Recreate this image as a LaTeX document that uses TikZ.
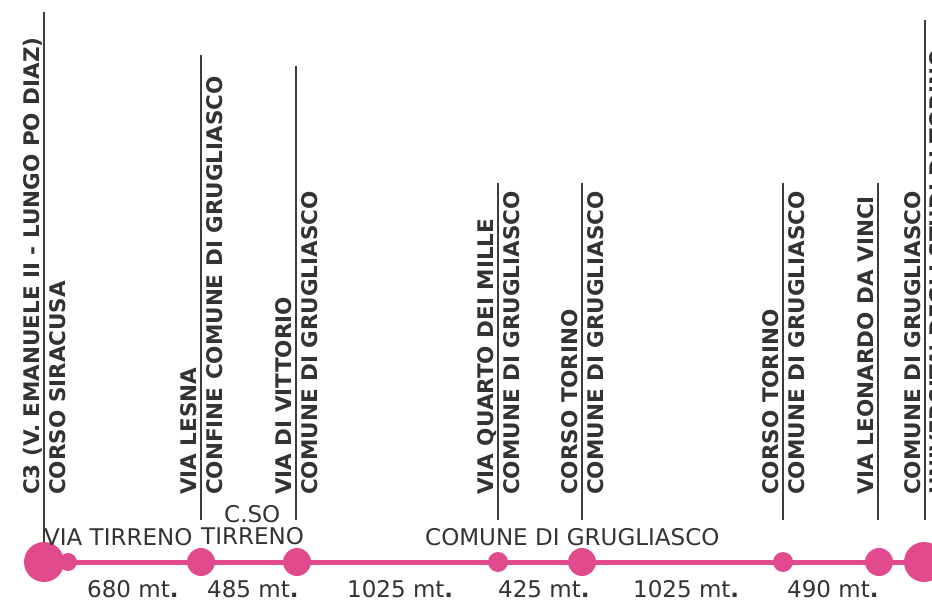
\documentclass[tikz,border=0pt]{standalone}
\usepackage{fontspec}
\setmainfont{DejaVu Sans}
\definecolor{routepink}{HTML}{E14B8E}
\definecolor{txtgray}{HTML}{333333}
\definecolor{linegray}{HTML}{3C3C3C}
\begin{document}
\begin{tikzpicture}[x=1pt,y=-1pt,
  stoplbl/.style={rotate=90,inner sep=0pt,anchor=base west,text=txtgray,
    font=\fontsize{21.5}{24}\selectfont\bfseries},
  plainlbl/.style={inner sep=0pt,anchor=base west,text=txtgray,
    font=\fontsize{23}{26}\selectfont},
  stopdot/.style={circle,fill=routepink,draw=none,inner sep=0pt},
  tick/.style={draw=linegray,line width=1.3pt},
  route/.style={draw=routepink,line width=5pt}]
\useasboundingbox (0,0) rectangle (932,601);
% stops
\node[stopdot,minimum size=40pt] (c1) at (44,562) {};
\node[stopdot,minimum size=18pt] (c2) at (68,562) {};
\node[stopdot,minimum size=28pt] (c3) at (201,562) {};
\node[stopdot,minimum size=28pt] (c4) at (297,562) {};
\node[stopdot,minimum size=20pt] (c5) at (498,562) {};
\node[stopdot,minimum size=28pt] (c6) at (582,562) {};
\node[stopdot,minimum size=20pt] (c7) at (783,562) {};
\node[stopdot,minimum size=28pt] (c8) at (879,562) {};
\node[stopdot,minimum size=40pt] (c9) at (924,562) {};
\coordinate (rend) at (932,562);
\draw[route] (c1.center) -- (c9.center) -- (rend);
% ticks
\coordinate (v1t) at (44,12);
\coordinate (v2t) at (201,55);  \coordinate (v2b) at (201,520);
\coordinate (v3t) at (296,66);  \coordinate (v3b) at (296,520);
\coordinate (v4t) at (498,183); \coordinate (v4b) at (498,520);
\coordinate (v5t) at (582,183); \coordinate (v5b) at (582,520);
\coordinate (v6t) at (783,183); \coordinate (v6b) at (783,520);
\coordinate (v7t) at (878,183); \coordinate (v7b) at (878,520);
\coordinate (v8t) at (925,20);  \coordinate (v8b) at (925,520);
\draw[tick] (v1t) -- (c1.north);
\draw[tick] (v2t) -- (v2b);
\draw[tick] (v3t) -- (v3b);
\draw[tick] (v4t) -- (v4b);
\draw[tick] (v5t) -- (v5b);
\draw[tick] (v6t) -- (v6b);
\draw[tick] (v7t) -- (v7b);
\draw[tick] (v8t) -- (v8b);
% vertical stop names
\node[stoplbl] (s1a) at (39,495) {C3 (V. EMANUELE II - LUNGO PO DIAZ)};
\node[stoplbl] (s1b) at (65.5,495) {CORSO SIRACUSA};
\node[stoplbl] (s2a) at (196,495) {VIA LESNA};
\node[stoplbl] (s2b) at (222.5,495) {CONFINE COMUNE DI GRUGLIASCO};
\node[stoplbl] (s3a) at (291,495) {VIA DI VITTORIO};
\node[stoplbl] (s3b) at (317.5,495) {COMUNE DI GRUGLIASCO};
\node[stoplbl] (s4a) at (493,495) {VIA QUARTO DEI MILLE};
\node[stoplbl] (s4b) at (519.5,495) {COMUNE DI GRUGLIASCO};
\node[stoplbl] (s5a) at (577,495) {CORSO TORINO};
\node[stoplbl] (s5b) at (603.5,495) {COMUNE DI GRUGLIASCO};
\node[stoplbl] (s6a) at (778,495) {CORSO TORINO};
\node[stoplbl] (s6b) at (804.5,495) {COMUNE DI GRUGLIASCO};
\node[stoplbl] (s7a) at (873,495) {VIA LEONARDO DA VINCI};
\node[stoplbl] (s8a) at (920,495) {COMUNE DI GRUGLIASCO};
\node[stoplbl] (s8b) at (945,495) {UNIVERSITA' DEGLI STUDI DI TORINO};
% street labels
\node[plainlbl] (r1) at (44,545) {VIA TIRRENO};
\node[plainlbl] (r2) at (201,544) {TIRRENO};
\node[plainlbl] (r3) at (224,522) {C.SO};
\node[plainlbl] (r4) at (425,545) {COMUNE DI GRUGLIASCO};
% distances
\node[plainlbl] (d1) at (87,597) {680 mt\textbf{.}};
\node[plainlbl] (d2) at (207,597) {485 mt\textbf{.}};
\node[plainlbl] (d3) at (347,597) {1025 mt\textbf{.}};
\node[plainlbl] (d4) at (498,597) {425 mt\textbf{.}};
\node[plainlbl] (d5) at (633,597) {1025 mt\textbf{.}};
\node[plainlbl] (d6) at (787,597) {490 mt\textbf{.}};
\end{tikzpicture}
\end{document}
